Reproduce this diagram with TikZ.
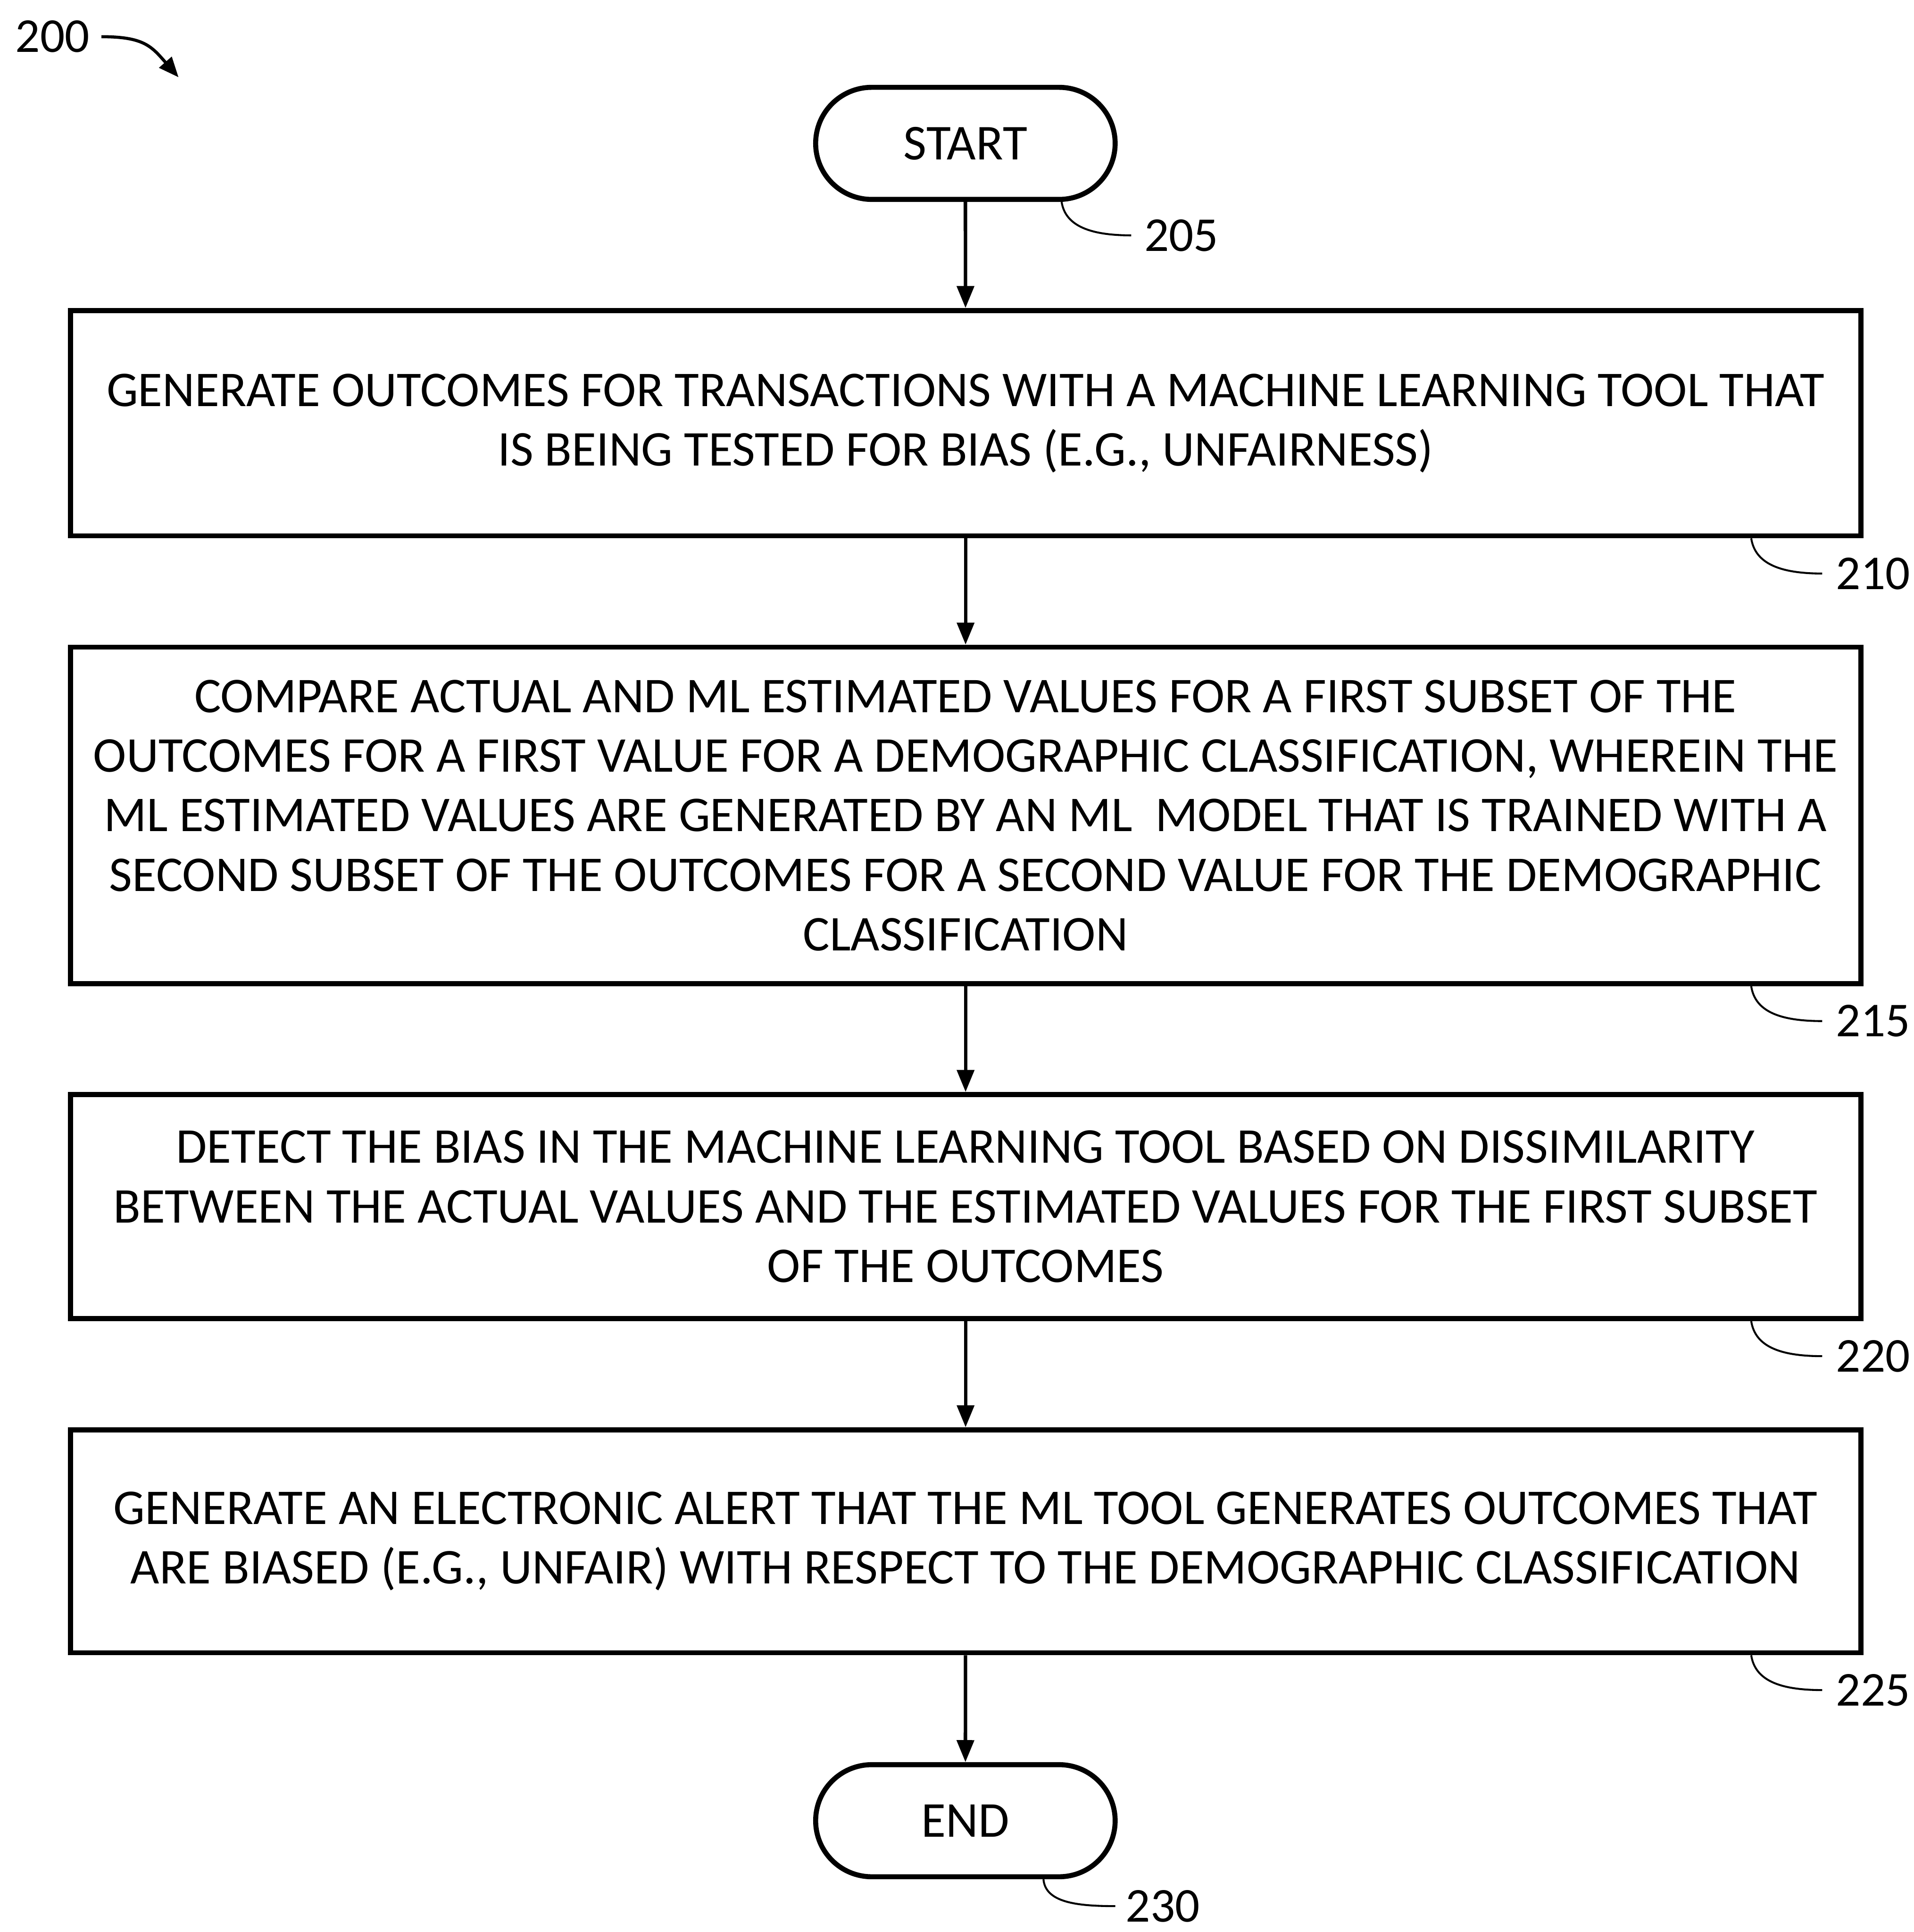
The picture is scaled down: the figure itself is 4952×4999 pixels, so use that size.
\documentclass[tikz,border=0pt]{standalone}
\usepackage{fontspec}
\setmainfont{Carlito}
\usetikzlibrary{arrows.meta,calc}
\begin{document}
\begin{tikzpicture}[x=0.1pt,y=-0.1pt,
  box/.style={draw, line width=1.3pt, minimum width=463.3pt, align=center, inner sep=0pt,
    font=\fontsize{12.95}{15.4}\selectfont},
  term/.style={draw, line width=1.3pt, rounded corners=14.5pt, minimum width=77.5pt,
    minimum height=29pt, inner sep=0pt, font=\fontsize{13}{15}\selectfont},
  flow/.style={line width=0.9pt, -{Triangle[length=5.7pt,width=4.4pt]}},
  lead/.style={line width=0.5pt},
  lbl/.style={font=\fontsize{12.6}{15}\selectfont, anchor=west, inner sep=0pt}]
\useasboundingbox (0,0) rectangle (4952,4999);

% nodes
\node[term] (start) at (2498,371) {START};
\node[box, minimum height=58.3pt] (b210) at (2498.5,1095)
  {GENERATE OUTCOMES FOR TRANSACTIONS WITH A MACHINE LEARNING TOOL THAT\\
   IS BEING TESTED FOR BIAS (E.G., UNFAIRNESS)};
\node[box, minimum height=87.1pt] (b215) at (2498.5,2110)
  {COMPARE ACTUAL AND ML ESTIMATED VALUES FOR A FIRST SUBSET OF THE\\
   OUTCOMES FOR A FIRST VALUE FOR A DEMOGRAPHIC CLASSIFICATION, WHEREIN THE\\
   ML ESTIMATED VALUES ARE GENERATED BY AN ML~ MODEL THAT IS TRAINED WITH A\\
   SECOND SUBSET OF THE OUTCOMES FOR A SECOND VALUE FOR THE DEMOGRAPHIC\\
   CLASSIFICATION};
\node[box, minimum height=58pt] (b220) at (2498.5,3122)
  {DETECT THE BIAS IN THE MACHINE LEARNING TOOL BASED ON DISSIMILARITY\\
   BETWEEN THE ACTUAL VALUES AND THE ESTIMATED VALUES FOR THE FIRST SUBSET\\
   OF THE OUTCOMES};
\node[box, minimum height=57.7pt] (b225) at (2498.5,3988)
  {GENERATE AN ELECTRONIC ALERT THAT THE ML TOOL GENERATES OUTCOMES THAT\\
   ARE BIASED (E.G., UNFAIR) WITH RESPECT TO THE DEMOGRAPHIC CLASSIFICATION};
\node[term] (end) at (2498,4711) {END};

% reference labels
\node[lbl] (l200) at (38,95) {200};
\node[lbl] (l205) at (2959,609) {205};
\node[lbl] (l210) at (4749,1484) {210};
\node[lbl] (l215) at (4749,2642) {215};
\node[lbl] (l220) at (4749,3509) {220};
\node[lbl] (l225) at (4749,4373) {225};
\node[lbl] (l230) at (2911,4932) {230};
\coordinate (t200) at (462,200);

% flow
\draw[flow] (start) -- (b210);
\draw[flow] (b210) -- (b215);
\draw[flow] (b215) -- (b220);
\draw[flow] (b220) -- (b225);
\draw[flow] (b225) -- (end);

% leaders
\draw[line width=0.8pt, -{Triangle[length=5.2pt,width=4.2pt]}]
  ([xshift=2.9pt]l200.east) .. controls +(110,0) and +(-70,-80) .. (t200);
\draw[lead] ($(start.south east)+(-145,0)$) .. controls +(10,65) and +(-100,0) .. ([xshift=-3.2pt]l205.west);
\foreach \n in {210,215,220,225}{
  \draw[lead] ($(b\n.south east)+(-290,0)$) .. controls +(10,65) and +(-110,0) .. ([xshift=-3.4pt]l\n.west);
}
\draw[lead] ($(end.south east)+(-192,0)$) .. controls +(5,60) and +(-100,0) .. ([xshift=-2.5pt]l230.west);
\end{tikzpicture}
\end{document}
